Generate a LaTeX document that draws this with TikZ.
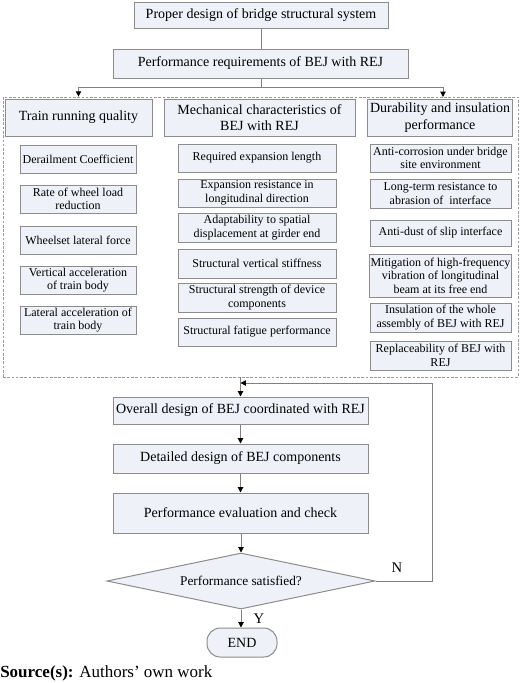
\documentclass[tikz,border=0pt]{standalone}
\usepackage{fontspec}
\setmainfont{Liberation Serif}
\usetikzlibrary{arrows.meta,shapes.geometric}
\definecolor{boxfill}{HTML}{EEF2F8}
\definecolor{boxline}{HTML}{8C8C8C}
\definecolor{conn}{HTML}{808080}
\definecolor{dashc}{HTML}{9A9A9A}
\begin{document}
\begin{tikzpicture}[x=0.75pt,y=-0.75pt,
  sz/.style 2 args={minimum width=#1*0.75pt, minimum height=#2*0.75pt},
  base/.style={draw=boxline, fill=boxfill, line width=0.75pt, align=center, inner sep=1pt},
  big/.style={base, font=\fontsize{10.5}{12.5}\selectfont},
  item/.style={base, font=\fontsize{9}{10.2}\selectfont},
  line/.style={draw=conn, line width=0.75pt},
  arr/.style={line, -{Triangle[length=4pt,width=4pt,color=black]}},
  lbl/.style={inner sep=0pt, font=\fontsize{11}{13}\selectfont},
]
\fill[white] (0,0) rectangle (520,683);
\useasboundingbox (0,0) rectangle (520,683);

\node[big, sz={254}{26}] (top) at (261,15) {Proper design of bridge structural system};
\node[big, sz={295}{29}] (req) at (260.5,63.5) {Performance requirements of BEJ with REJ};

\node[draw=dashc, dash pattern=on 2pt off 1.2pt, line width=0.6pt, inner sep=0pt, sz={515}{280}] (grp) at (260.5,237) {};

\node[big, sz={147}{37}] (h1) at (78.5,117.5) {Train running quality};
\node[big, sz={191}{37}] (h2) at (259.5,117.5) {Mechanical characteristics of\\BEJ with REJ};
\node[big, sz={145}{37}] (h3) at (440,117.5) {Durability and insulation\\performance};

\node[item, sz={116}{28}] (L1) at (78,159) {Derailment Coefficient};
\node[item, sz={116}{28}] (L2) at (78,199) {Rate of wheel load\\reduction};
\node[item, sz={116}{28}] (L3) at (78,240) {Wheelset lateral force};
\node[item, sz={116}{28}] (L4) at (78,280) {Vertical acceleration\\of train body};
\node[item, sz={116}{28}] (L5) at (78,320) {Lateral acceleration of\\train body};

\node[item, sz={158}{28}] (M1) at (257,158) {Required expansion length};
\node[item, sz={158}{28}] (M2) at (257,193) {Expansion resistance in\\longitudinal direction};
\node[item, sz={158}{29}] (M3) at (257,227.5) {Adaptability to spatial\\displacement at girder end};
\node[item, sz={158}{29}] (M4) at (257,263.5) {Structural vertical stiffness};
\node[item, sz={158}{29}] (M5) at (257,297.5) {Structural strength of device\\components};
\node[item, sz={158}{28}] (M6) at (257,332) {Structural fatigue performance};

\node[item, sz={141}{28}] (R1) at (440.5,158) {Anti-corrosion under bridge\\site environment};
\node[item, sz={141}{29}] (R2) at (440.5,193.5) {Long-term resistance to\\abrasion of\ \ interface};
\node[item, sz={141}{26}] (R3) at (440.5,233) {Anti-dust of slip interface};
\node[item, sz={141}{43}] (R4) at (440.5,275.5) {Mitigation of high-frequency\\vibration of longitudinal\\beam at its free end};
\node[item, sz={141}{29}] (R5) at (440.5,317.5) {Insulation of the whole\\assembly of BEJ with REJ};
\node[item, sz={141}{29}] (R6) at (440.5,355.5) {Replaceability of BEJ with\\REJ};

\node[big, sz={255}{27}] (ov) at (240.5,410.5) {Overall design of BEJ coordinated with REJ};
\node[big, sz={255}{29}] (dt) at (240.5,458.5) {Detailed design of BEJ components};
\node[big, sz={255}{40}] (pe) at (240.5,513) {Performance evaluation and check};
\node[base, diamond, aspect=4.8, inner sep=0pt, sz={268}{56}, font=\fontsize{10}{12}\selectfont] (dia) at (241,581) {Performance satisfied?};
\node[base, rounded corners=10pt, sz={70}{29}, font=\fontsize{10.5}{12.5}\selectfont] (end) at (242,642.5) {END};

\coordinate (split) at (261,87);
\coordinate (r3in) at (443,97);
\coordinate (fbc) at (432,383);

\draw[line] (top.south) -- (top.south |- req.north);
\draw[line] (req.south -| split) -- (split);
\draw[arr] (split) -| (h1.north |- grp.north);
\draw[arr] (split) -| (r3in);
\draw[arr] (grp.south -| ov.north) -- (ov.north);
\draw[arr] (ov) -- (dt);
\draw[arr] (dt) -- (pe);
\draw[arr] (pe.south -| dia.north) -- (dia.north);
\draw[arr] (dia.south) -- (dia.south |- end.north);
\draw[arr] (dia.east) -| (fbc) -- (fbc -| ov.north);

\node[lbl] (nlab) at (397,568) {N};
\node[lbl] (ylab) at (259,619) {Y};
\node[anchor=west, inner sep=0pt, font=\fontsize{12.75}{14}\selectfont] (src) at (0,673) {\textbf{Source(s):} Authors’ own work};
\end{tikzpicture}
\end{document}
